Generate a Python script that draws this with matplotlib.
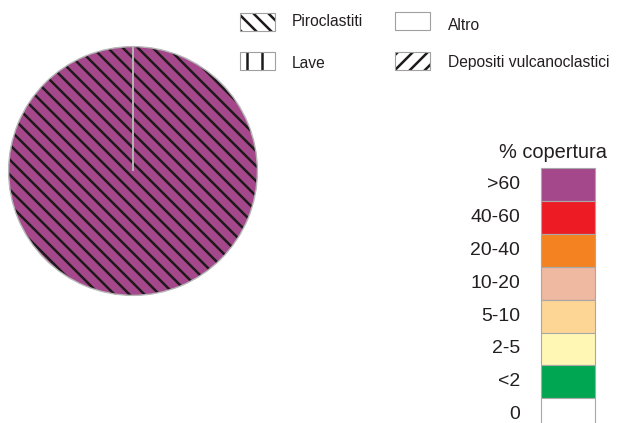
import matplotlib.pyplot as plt
from matplotlib.patches import Rectangle

plt.rcParams['font.family'] = ['Liberation Sans', 'DejaVu Sans']
plt.rcParams['hatch.linewidth'] = 2.0

# composition of the pie
rock_types = ['Piroclastiti', 'Lave', 'Altro', 'Depositi vulcanoclastici']
shares = [100, 0, 0, 0]
rock_hatches = ['\\\\', '|', '', '//']

# coverage classes (top to bottom)
cover_labels = ['>60', '40-60', '20-40', '10-20', '5-10', '2-5', '<2', '0']
cover_colors = ['#A4478B', '#ED1C24', '#F58220', '#EFB8A0', '#FDD595',
                '#FFF7B3', '#00A651', '#FFFFFF']
pie_color = cover_colors[0]

DPI = 90
W, H = 618, 423
fig = plt.figure(figsize=(W / DPI, H / DPI), dpi=DPI)

# pie
ax = fig.add_axes([8 / W, (H - 296) / H, 250 / W, 250 / H])
wedges, _ = ax.pie(shares, startangle=90, counterclock=False,
                   radius=1.0, colors=[pie_color] * len(shares),
                   wedgeprops=dict(edgecolor='#1E1A1C', linewidth=0))
for w, h in zip(wedges, rock_hatches):
    w.set_hatch(h)
ax.pie(shares, startangle=90, counterclock=False, radius=1.0,
       wedgeprops=dict(facecolor='none', edgecolor='#B5B5B5', linewidth=1.1))
ax.set_xlim(-1.005, 1.005)
ax.set_ylim(-1.005, 1.005)
ax.set_aspect('auto')

# overlay in pixel coordinates for the legends
lg = fig.add_axes([0, 0, 1, 1])
lg.set_xlim(0, W)
lg.set_ylim(H, 0)
lg.axis('off')

txt = '#231F20'
sw_x = [240, 240, 395, 395]
sw_y = [13, 52, 12, 52]
tx_x = [292, 292, 448, 448]
tx_y = [22, 63, 25, 63]
for i in range(len(rock_types)):
    lg.add_patch(Rectangle((sw_x[i], sw_y[i]), 35, 18, facecolor='white',
                           edgecolor='#1E1A1C', linewidth=0, hatch=rock_hatches[i]))
    lg.add_patch(Rectangle((sw_x[i], sw_y[i]), 35, 18, facecolor='none',
                           edgecolor='#A0A0A0', linewidth=0.9))
    lg.text(tx_x[i], tx_y[i], rock_types[i], fontsize=12.5, color=txt,
            ha='left', va='center')

# coverage scale
box_x, box_w, box_top, box_h = 541, 54, 168, 32.9
lg.text(553, 152, '% copertura', fontsize=16, color=txt, ha='center', va='center')
for k, (lab, col) in enumerate(zip(cover_labels, cover_colors)):
    y0 = box_top + k * box_h
    lg.add_patch(Rectangle((box_x, y0), box_w, box_h, facecolor=col,
                           edgecolor='#A8A8A8', linewidth=0.9))
    lg.text(520, y0 + box_h / 2, lab, fontsize=15.5, color=txt,
            ha='right', va='center')

fig.savefig('out.png', dpi=DPI, facecolor='white')
